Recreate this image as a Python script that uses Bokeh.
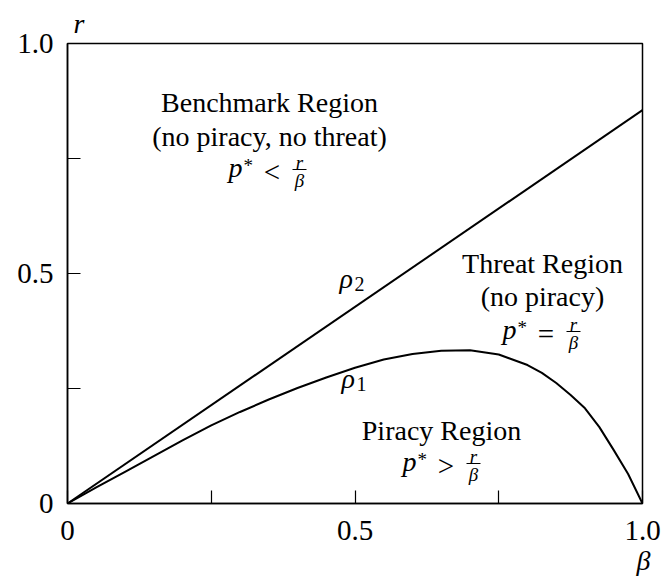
from bokeh.plotting import figure
from bokeh.models import FixedTicker, Label, Title
from bokeh.embed import file_html
from bokeh.resources import INLINE

# Boundary curves of the three regions in the (beta, r) plane
beta = [0, 0.05, 0.10, 0.15, 0.20, 0.25, 0.30, 0.35, 0.40, 0.45, 0.50, 0.55,
        0.60, 0.65, 0.70, 0.75, 0.80, 0.825, 0.85, 0.875, 0.90, 0.925, 0.95, 0.975, 1.0]
rho1 = [0, 0.035, 0.069, 0.103, 0.137, 0.170, 0.199, 0.226, 0.251, 0.274, 0.295,
        0.313, 0.325, 0.332, 0.333, 0.324, 0.301, 0.284, 0.262, 0.236, 0.207,
        0.166, 0.116, 0.064, 0]
rho2_beta = [0, 1.0]
rho2 = [0, 0.855]

ticks = [0, 0.25, 0.5, 0.75, 1.0]
tick_labels = {0: "0", 0.25: "", 0.5: "0.5", 0.75: "", 1.0: "1.0"}

W, H = 662, 586
L, R, T, B = 67, 20, 43, 83
FONT = "Liberation Serif"

p = figure(width=W, height=H, x_range=(0, 1), y_range=(0, 1),
           output_backend="svg", toolbar_location=None,
           min_border_left=L, min_border_right=R, min_border_top=T, min_border_bottom=B)
p.background_fill_color = "white"
p.border_fill_color = "white"
p.grid.visible = False
p.outline_line_color = "black"
p.outline_line_width = 1.5
p.outline_line_alpha = 1.0

for ax in (p.xaxis[0], p.yaxis[0]):
    ax.ticker = FixedTicker(ticks=ticks)
    ax.major_label_overrides = tick_labels
    ax.major_tick_in = 13
    ax.major_tick_out = 0
    ax.minor_tick_line_color = None
    ax.axis_line_color = "black"
    ax.axis_line_width = 1.5
    ax.major_tick_line_color = "black"
    ax.major_tick_line_width = 1.2
    ax.major_label_text_font = FONT
    ax.major_label_text_font_size = "29px"
    ax.major_label_text_color = "black"
p.xaxis.major_label_standoff = 17
p.yaxis.major_label_standoff = 14

# axis names: r above the left edge, beta under the right end
p.title.text = "r"
p.title.align = "left"
p.title.offset = 6
p.title.text_font = FONT
p.title.text_font_size = "28px"
p.title.text_font_style = "italic"
p.title.text_color = "black"
p.title.standoff = 9
p.add_layout(Title(text="β", align="right", offset=-8, text_font=FONT,
                   text_font_size="28px", text_font_style="italic",
                   text_color="black", standoff=0), "below")

p.line(beta, rho1, line_color="black", line_width=2, line_join="round")
p.line(rho2_beta, rho2, line_color="black", line_width=2)

# pixel -> data helpers for placing annotations
fw, fh = W - L - R, H - T - B
SHIFT = 9


def bx(px):
    return (px - L) / fw


def ry(py):
    return (H - B - py) / fh


def label(px, py, text, size=28, align="center", style="normal", shift=SHIFT):
    p.add_layout(Label(x=bx(px), y=ry(py - shift), text=text, text_align=align,
                       text_baseline="alphabetic", text_font=FONT,
                       text_font_size=f"{size}px", text_font_style=style,
                       text_color="black"))


def condition(x0, axis, op):
    # p* <op> r/beta, with the fraction stacked on the math axis
    label(x0, axis + 5, "p", 28, "left", "italic")
    label(x0 + 15, axis + 3, "*", 19, "left")
    label(x0 + 43.5, axis + 9, op, 29, "center")
    label(x0 + 71, axis - 3, "r", 19, "center", "italic", 6)
    label(x0 + 71, axis + 15, "β", 19, "center", "italic", 6)
    p.segment(x0=[bx(x0 + 64)], y0=[ry(axis + 1 - 3)], x1=[bx(x0 + 78)], y1=[ry(axis + 1 - 3)],
              line_color="black", line_width=1)


# Benchmark region
label(269, 111, "Benchmark Region")
label(269, 145, "(no piracy, no threat)")
condition(228, 171, "<")

# Threat region
label(542, 272, "Threat Region")
label(542, 305, "(no piracy)")
condition(502, 333, "=")

# Piracy region
label(441, 439, "Piracy Region")
condition(402, 465, ">")

# curve labels
label(339, 287, "ρ", 28, "left", "italic")
label(354, 292, "2", 20, "left")
label(341, 387, "ρ", 28, "left", "italic")
label(356, 392, "1", 20, "left")

open("out.html", "w").write(file_html(p, INLINE))
